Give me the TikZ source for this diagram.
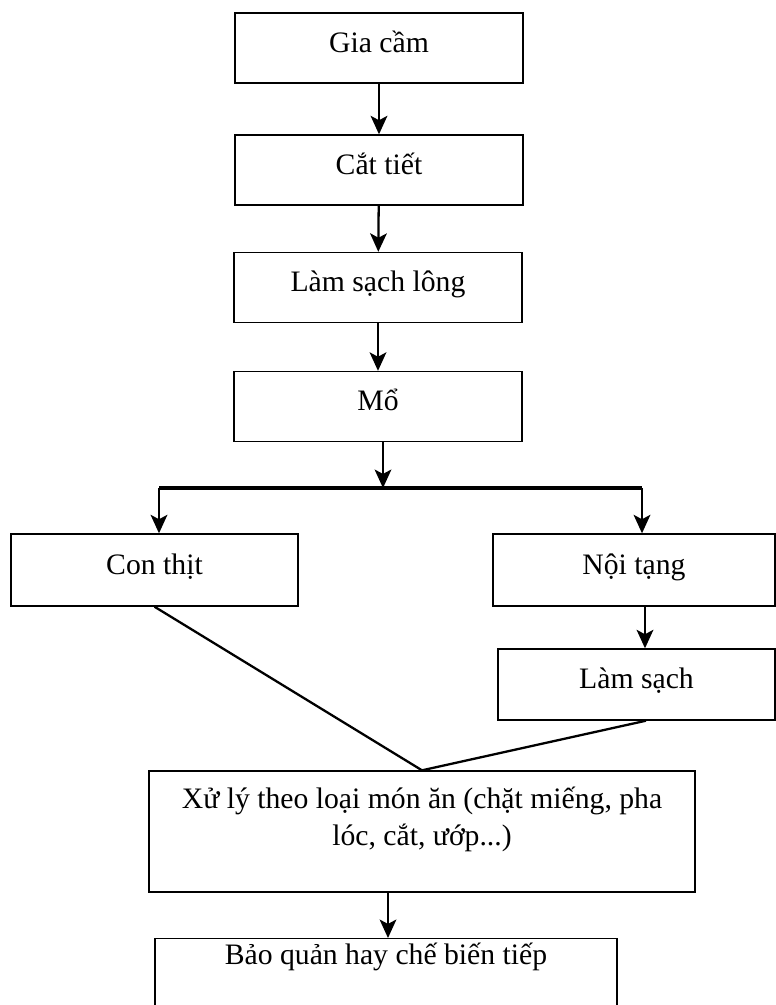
\documentclass[tikz,border=0pt]{standalone}
\usepackage{fontspec}
\setmainfont{Liberation Serif}
\usetikzlibrary{arrows.meta,calc}

\tikzset{
  stepbox/.style={draw, line width=0.8pt, minimum width=5.76cm, minimum height=1.4cm,
    inner sep=0pt, font=\fontsize{16.9}{21.5}\selectfont, text height=12pt, text depth=7pt},
  flow/.style={line width=1.3pt, -{Stealth[length=10.5pt,width=9.5pt,inset=2.5pt]}},
  joinline/.style={line width=1.3pt}
}

\begin{document}
\begin{tikzpicture}[x=0.02cm, y=-0.02cm]
    \useasboundingbox (0,0) rectangle (775,1005);

    % Main chain
    \node[stepbox] (giacam) at (379,48) {Gia cầm};
    \node[stepbox] (cattiet) at (379,170) {Cắt tiết};
    \node[stepbox] (lamlong) at (378,287.5) {Làm sạch lông};
    \node[stepbox] (mo) at (378,406.5) {Mổ};

    % Split
    \coordinate (splitL) at (159,488);
    \coordinate (splitR) at (642,488);

    % Two branches
    \node[stepbox, minimum width=5.74cm, minimum height=1.44cm] (conthit) at (154.5,570) {Con thịt};
    \node[stepbox, minimum width=5.64cm, minimum height=1.44cm] (noitang) at (634,570) {Nội tạng};
    \node[stepbox, minimum width=5.54cm, minimum height=1.42cm] (lamsach) at (636.5,684.5) {Làm sạch};

    % Processing
    \node[stepbox, minimum width=10.92cm, minimum height=2.42cm, align=center, text height=30pt, text depth=13.6pt]
        (xuly) at (422,831.5) {Xử lý theo loại món ăn (chặt miếng, pha\\lóc, cắt, ướp...)};
    \node[stepbox, anchor=north, minimum width=9.24cm, minimum height=2cm, text depth=39.5pt]
        (baoquan) at (386,938) {Bảo quản hay chế biến tiếp};

    % Arrows
    \draw[flow] (giacam) -- (cattiet);
    \draw[flow] (cattiet) -- (lamlong);
    \draw[flow] (lamlong) -- (mo);
    \draw[flow] ([xshift=0.1cm]mo.south) -- ([xshift=0.1cm]mo.south |- splitL);
    \draw[line width=2pt] (splitL) -- (splitR);
    \draw[flow] (splitL) -- (splitL |- conthit.north);
    \draw[flow] (splitR) -- (splitR |- noitang.north);
    \draw[flow] ([xshift=0.22cm]noitang.south) -- ([xshift=0.22cm]noitang.south |- lamsach.north);

    % Joining lines
    \draw[joinline] (conthit.south) -- (xuly.north);
    \draw[joinline] ([xshift=0.19cm]lamsach.south) -- (xuly.north);

    \draw[flow] ([xshift=0.04cm]baoquan.north |- xuly.south) -- ([xshift=0.04cm]baoquan.north);
\end{tikzpicture}
\end{document}
